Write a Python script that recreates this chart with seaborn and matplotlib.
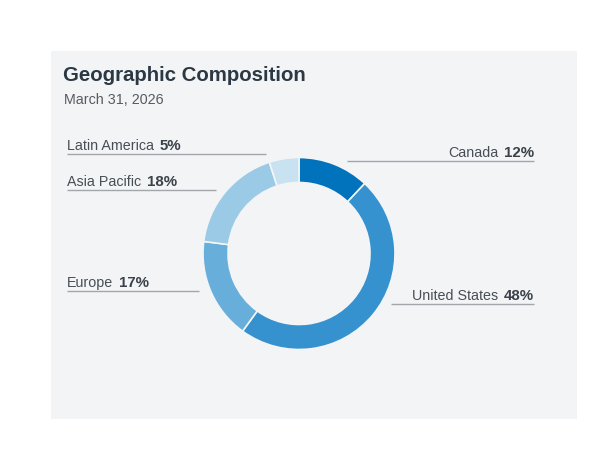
import numpy as np
import pandas as pd
import seaborn as sns
import matplotlib.pyplot as plt
from matplotlib.patches import Rectangle

# Data
regions = ["Canada", "United States", "Europe", "Asia Pacific", "Latin America"]
shares = [12, 48, 17, 18, 5]
pct_labels = ["12%", "48%", "17%", "18%", "5%"]
colors = ["#0073bc", "#3592cf", "#67aedb", "#9bcae6", "#c9e2f2"]

title = "Geographic Composition"
subtitle = "March 31, 2026"

sns.set_theme(style="white")
plt.rcParams['font.family'] = ['Liberation Sans', 'DejaVu Sans']

W, H = 599, 469
fig = plt.figure(figsize=(W / 100, H / 100), dpi=100)
fig.patch.set_facecolor("white")
ax = fig.add_axes([0, 0, 1, 1])

def fy(y):
    # top-based pixel y -> data y
    return H - y

bg = "#f3f4f6"
ax.add_patch(Rectangle((51, fy(419)), 526, 368, facecolor=bg, edgecolor="none", zorder=0))

# Donut
ax.pie(shares, colors=colors, startangle=90, counterclock=False,
       center=(299, fy(253.5)), radius=96, frame=True,
       wedgeprops=dict(width=25, edgecolor=bg, linewidth=1.2))

ax.set_xlim(0, W)
ax.set_ylim(0, H)
ax.set_aspect("auto")
ax.axis("off")

# Title
ax.text(63, fy(81), title, fontsize=14.7, fontweight="bold", color="#2c3843", va="baseline")
ax.text(64, fy(104), subtitle, fontsize=10.3, color="#555b61", va="baseline")

# Label layout: (side, line y, x start, x end)
label_pos = {
    "Canada": ("right", 161, 347, 534),
    "United States": ("right", 304, 391, 534),
    "Europe": ("left", 291, 67, 199),
    "Asia Pacific": ("left", 190, 67, 216),
    "Latin America": ("left", 154, 67, 266),
}
txt_color = "#3a4148"
name_color = "#474e55"
line_color = "#a3a7ab"

for name, pct in zip(regions, pct_labels):
    side, ly, x0, x1 = label_pos[name]
    ax.plot([x0, x1], [fy(ly), fy(ly)], color=line_color, lw=1, solid_capstyle="butt")
    if side == "left":
        t = ax.text(x0, fy(ly - 4), name, fontsize=10.3, color=name_color, va="baseline", ha="left")
        ax.annotate(pct, xy=(1, 0), xycoords=t, xytext=(4, 0), textcoords="offset points",
                    fontsize=10.8, fontweight="bold", color=txt_color, va="bottom", ha="left")
    else:
        t = ax.text(x1, fy(ly - 4), pct, fontsize=10.8, fontweight="bold", color=txt_color,
                    va="baseline", ha="right")
        ax.annotate(name, xy=(0, 0), xycoords=t, xytext=(-4, 0), textcoords="offset points",
                    fontsize=10.3, color=name_color, va="bottom", ha="right")

fig.savefig("out.png", dpi=100)
